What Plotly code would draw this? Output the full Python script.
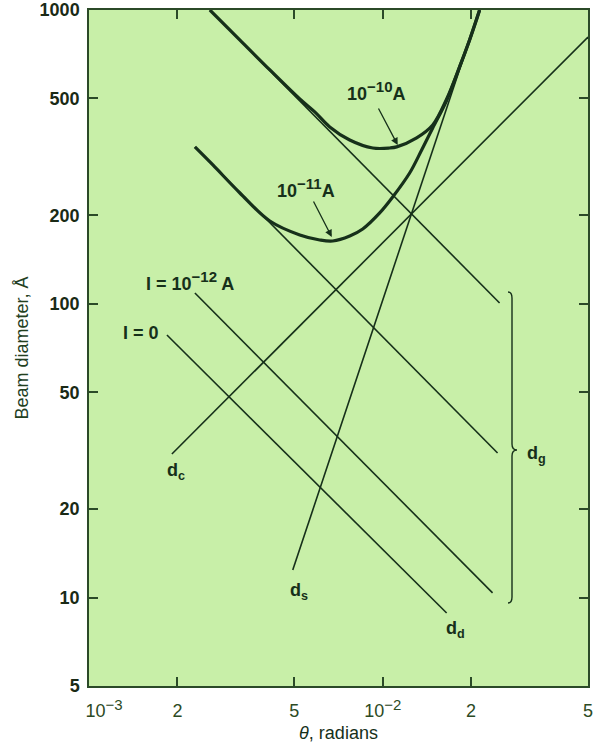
import numpy as np
import plotly.graph_objects as go

# ---- total beam diameter curves, d(theta) in angstroms ----
theta_total_1e10 = [2.58e-3, 3.26e-3, 4.13e-3, 5.22e-3, 5.87e-3, 6.60e-3, 7.72e-3, 9.25e-3,
                    1.056e-2, 1.116e-2, 1.305e-2, 1.48e-2, 1.65e-2, 1.827e-2, 1.976e-2, 2.138e-2]
d_total_1e10 = [1000, 791, 625, 498, 450, 400, 361, 339,
                339, 342, 367, 406, 497, 640, 791, 1000]

theta_total_1e11 = [2.294e-3, 2.641e-3, 3.264e-3, 4.127e-3, 5.221e-3, 6.105e-3, 6.760e-3, 7.723e-3,
                    8.550e-3, 9.768e-3, 1.0814e-2, 1.2352e-2, 1.3572e-2, 1.48e-2, 1.65e-2,
                    1.827e-2, 1.976e-2, 2.138e-2]
d_total_1e11 = [341.8, 296.8, 238.3, 191.3, 171.5, 164.9, 163.6, 170.1,
                179.7, 203.8, 230.9, 278.7, 333.8, 396.6, 492,
                639.8, 790.6, 1000]

# ---- straight contributions (end points on the log-log grid) ----
theta_dc = [1.915e-3, 5.0e-2]      # chromatic aberration
d_dc = [30.8, 809]
theta_ds = [4.94e-3, 2.134e-2]     # spherical aberration
d_ds = [12.4, 1000]
theta_dd = [1.842e-3, 1.651e-2]    # diffraction, I = 0
d_dd = [78.3, 8.86]
theta_dg_1e12 = [2.294e-3, 2.366e-2]   # gaussian image, I = 1e-12 A
d_dg_1e12 = [108.8, 10.37]
theta_dg_1e11 = [2.294e-3, 2.461e-2]   # I = 1e-11 A
d_dg_1e11 = [341.8, 31.06]
theta_dg_1e10 = [2.58e-3, 2.50e-2]     # I = 1e-10 A
d_dg_1e10 = [1000, 100.6]

# ---- axis ticks ----
NB = "\u00a0"
SUP = "<sup><span style='font-size:15px'>{}</span></sup>"
x_tickvals = [1e-3, 2e-3, 5e-3, 1e-2, 2e-2, 5e-2]
x_ticktext = [NB * 6 + "10" + SUP.format("\u22123"), "2", "5",
              "10" + SUP.format("\u22122"), "2", "5"]
y_tickvals = [5, 10, 20, 50, 100, 200, 500, 1000]
y_ticktext = ["5", "10", "20", "50", "100", "200", "500", "1000"]

INK = "#16301a"
AXIS = "#2b4a28"
BG = "#c8efa8"
FONT = "Liberation Sans, Arial, sans-serif"

fig = go.Figure()

thin = dict(color=INK, width=1.6)
for tx, dy in [(theta_dc, d_dc), (theta_ds, d_ds), (theta_dd, d_dd),
               (theta_dg_1e12, d_dg_1e12), (theta_dg_1e11, d_dg_1e11),
               (theta_dg_1e10, d_dg_1e10)]:
    fig.add_trace(go.Scatter(x=tx, y=dy, mode="lines", line=thin, hoverinfo="skip"))

thick = dict(color=INK, width=3.2, shape="spline", smoothing=1.0)
for tx, dy in [(theta_total_1e11, d_total_1e11), (theta_total_1e10, d_total_1e10)]:
    fig.add_trace(go.Scatter(x=tx, y=dy, mode="lines", line=thick, hoverinfo="skip"))

lg = np.log10
label_font = dict(family=FONT, size=18, color=INK, weight="bold")
annotations = [
    dict(x=lg(9.47e-3), y=lg(530), text="10" + SUP.format("\u221210") + "A"),
    dict(x=lg(5.47e-3), y=lg(248), text="10" + SUP.format("\u221211") + "A"),
    dict(x=lg(2.206e-3), y=lg(119.6), text="I = 10" + SUP.format("\u221212") + " A"),
    dict(x=lg(1.503e-3), y=lg(79.5), text="I = 0"),
    dict(x=lg(1.976e-3), y=lg(26.8), text="d<sub>c</sub>"),
    dict(x=lg(5.18e-3), y=lg(10.5), text="d<sub>s</sub>"),
    dict(x=lg(1.771e-2), y=lg(7.76), text="d<sub>d</sub>"),
    dict(x=lg(3.341e-2), y=lg(30.6), text="d<sub>g</sub>"),
]
for a in annotations:
    a.update(xref="x", yref="y", showarrow=False, font=label_font,
             xanchor="center", yanchor="middle")

# pointers from the current labels to their curves
for hx, hy, ax, ay in [(1.1247e-2, 347, -20, -38), (6.707e-3, 168.8, -19, -37)]:
    annotations.append(dict(x=lg(hx), y=lg(hy), xref="x", yref="y", text="",
                            showarrow=True, ax=ax, ay=ay, arrowhead=2, arrowsize=1.1,
                            arrowwidth=1.3, arrowcolor=INK, standoff=0))

# right-hand brace grouping the three d_g lines (paper coordinates)
bx0, bx1, bx2 = 0.8397, 0.8477, 0.8577
by_top, by_mid, by_bot = 0.5829, 0.3491, 0.1228
brace = (f"M {bx0},{by_top} Q {bx1},{by_top} {bx1},{by_top-0.009} "
         f"L {bx1},{by_mid+0.009} Q {bx1},{by_mid} {bx2},{by_mid} "
         f"Q {bx1},{by_mid} {bx1},{by_mid-0.009} "
         f"L {bx1},{by_bot+0.009} Q {bx1},{by_bot} {bx0},{by_bot}")

fig.update_layout(
    width=598, height=743,
    margin=dict(l=89, r=10, t=10, b=57),
    paper_bgcolor="white", plot_bgcolor=BG,
    showlegend=False,
    font=dict(family=FONT, size=17, color=INK),
    annotations=annotations,
    shapes=[dict(type="path", path=brace, xref="paper", yref="paper",
                 line=dict(color=INK, width=1.4))],
)

axis_common = dict(type="log", ticks="inside", ticklen=9, tickwidth=1.5, tickcolor=AXIS,
                   showline=True, linecolor=AXIS, linewidth=1.5, mirror="ticks",
                   showgrid=False, zeroline=False, automargin=False)

fig.update_xaxes(range=[lg(1e-3), lg(5e-2)], tickvals=x_tickvals, ticktext=x_ticktext,
                 tickfont=dict(family=FONT, size=18, color="#2c4a24"),
                 ticklabelstandoff=8,
                 title=dict(text="<i>\u03b8</i>, radians",
                            font=dict(family=FONT, size=18, color=INK), standoff=12),
                 **axis_common)
fig.update_yaxes(range=[lg(5), lg(1000)], tickvals=y_tickvals, ticktext=y_ticktext,
                 tickfont=dict(family=FONT, size=18, color="#1a2a16", weight="bold"),
                 ticklabelstandoff=4,
                 title=dict(text="Beam diameter, \u00c5",
                            font=dict(family=FONT, size=18, color="#23401f"), standoff=6),
                 **axis_common)

fig.write_html("out.html")
